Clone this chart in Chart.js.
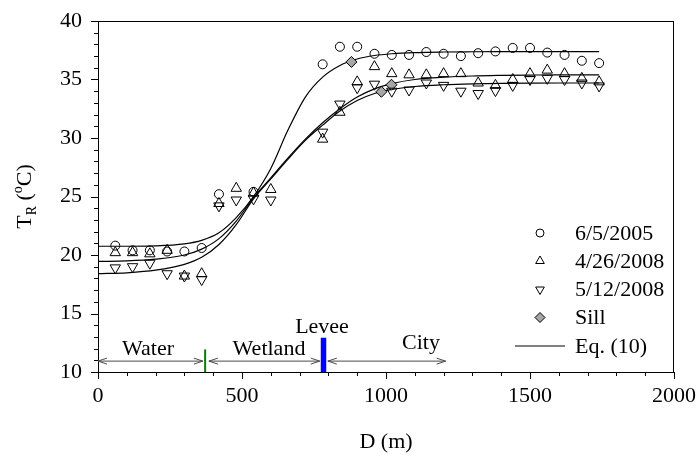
<!DOCTYPE html>
<html>
<head>
<meta charset="utf-8">
<style>
  html, body { margin: 0; padding: 0; background: #fff; }
  #wrap { width: 697px; height: 455px; position: relative; }
</style>
<script src="https://cdn.jsdelivr.net/npm/chart.js"></script>
</head>
<body>
<div id="wrap"><canvas id="myChart"></canvas></div>
<script>
let serif = "'Liberation Serif', 'Times New Roman', serif";

// measured river temperatures along the transect, D in m, T in C
let d_2005 = [60, 120, 180, 240, 300, 360, 420, 540, 780, 840, 900, 960, 1020, 1080, 1140, 1200, 1260, 1320, 1380, 1440, 1500, 1560, 1620, 1680, 1740];
let t_2005 = [20.8, 20.4, 20.4, 20.3, 20.3, 20.6, 25.2, 25.4, 36.3, 37.8, 37.8, 37.2, 37.1, 37.1, 37.35, 37.2, 37.0, 37.25, 37.4, 37.7, 37.7, 37.3, 37.1, 36.6, 36.4];

let d_apr2008 = [60, 120, 180, 240, 300, 360, 420, 480, 540, 600, 780, 840, 900, 960, 1020, 1080, 1140, 1200, 1260, 1320, 1380, 1440, 1500, 1560, 1620, 1680, 1740];
let t_apr2008 = [20.2, 20.2, 20.1, 20.4, 18.2, 18.4, 24.4, 25.7, 25.3, 25.6, 29.9, 32.2, 34.8, 36.1, 35.5, 35.4, 35.4, 35.5, 35.5, 34.7, 34.5, 35.0, 35.5, 35.8, 35.5, 35.1, 34.8];

let d_may2008 = [60, 120, 180, 240, 300, 360, 420, 480, 540, 600, 780, 840, 900, 960, 1020, 1080, 1140, 1200, 1260, 1320, 1380, 1440, 1500, 1560, 1620, 1680, 1740];
let t_may2008 = [18.9, 19.0, 19.3, 18.4, 18.2, 17.9, 24.2, 24.7, 24.8, 24.7, 30.5, 32.9, 34.3, 34.6, 34.0, 34.1, 34.7, 34.5, 34.0, 33.8, 34.05, 34.5, 35.0, 35.1, 35.0, 34.7, 34.45];

let d_sill = [880, 984, 1019];
let t_sill = [36.5, 33.95, 34.55];

// Eq. (10) curves
let d_fit = [0, 100, 200, 300, 360, 420, 480, 540, 600, 660, 720, 780, 840, 900, 960, 1020, 1100, 1200, 1300, 1400, 1500, 1600, 1740];
let fit_2005 = [20.75, 20.75, 20.78, 20.95, 21.25, 21.9, 23.2, 25.0, 27.4, 30.7, 33.5, 35.2, 36.2, 36.75, 37.05, 37.2, 37.3, 37.35, 37.37, 37.38, 37.38, 37.38, 37.38];
let fit_apr2008 = [19.45, 19.5, 19.65, 20.0, 20.5, 21.4, 22.9, 24.9, 26.6, 28.3, 29.9, 31.3, 32.5, 33.5, 34.2, 34.65, 35.0, 35.2, 35.3, 35.35, 35.38, 35.4, 35.4];
let fit_may2008 = [18.4, 18.48, 18.7, 19.2, 19.8, 20.9, 22.6, 24.8, 26.5, 28.2, 29.8, 31.1, 32.3, 33.2, 33.8, 34.15, 34.4, 34.55, 34.63, 34.67, 34.69, 34.7, 34.7];

let legend_labels = ['6/5/2005', '4/26/2008', '5/12/2008', 'Sill', 'Eq. (10)'];

function toPoints (xs, ys) {
  return xs.map(function (x, i) { return { x: x, y: ys[i] }; });
}

function fitLine (xs, ys) {
  return {
    type: 'line',
    data: toPoints(xs, ys),
    borderColor: '#000',
    borderWidth: 1.2,
    pointRadius: 0,
    cubicInterpolationMode: 'monotone',
    fill: false,
    order: 2
  };
}

function marker (xs, ys, style, radius, rotation, fillColor) {
  return {
    type: 'scatter',
    data: toPoints(xs, ys),
    pointStyle: style,
    pointRadius: radius,
    pointRotation: rotation,
    pointBackgroundColor: fillColor,
    pointBorderColor: '#000',
    pointBorderWidth: 1,
    order: 1
  };
}

function symbol (ctx, style, x, y, r) {
  ctx.beginPath();
  if (style === 'circle') {
    ctx.arc(x, y, r, 0, Math.PI * 2);
  } else if (style === 'up') {
    ctx.moveTo(x, y - r);
    ctx.lineTo(x + r * 0.866, y + r * 0.5);
    ctx.lineTo(x - r * 0.866, y + r * 0.5);
    ctx.closePath();
  } else if (style === 'down') {
    ctx.moveTo(x, y + r);
    ctx.lineTo(x + r * 0.866, y - r * 0.5);
    ctx.lineTo(x - r * 0.866, y - r * 0.5);
    ctx.closePath();
  } else {
    ctx.moveTo(x, y - r);
    ctx.lineTo(x + r, y);
    ctx.lineTo(x, y + r);
    ctx.lineTo(x - r, y);
    ctx.closePath();
  }
}

function arrowHead (ctx, x, y, dir) {
  ctx.beginPath();
  ctx.moveTo(x - dir * 9, y - 3);
  ctx.lineTo(x, y);
  ctx.lineTo(x - dir * 9, y + 3);
  ctx.stroke();
}

let decorPlugin = {
  id: 'decor',
  afterDraw: function (chart) {
    let ctx = chart.ctx;
    let a = chart.chartArea;
    let xs = chart.scales.x;
    let ys = chart.scales.y;
    ctx.save();

    // frame
    ctx.strokeStyle = '#000';
    ctx.lineWidth = 1;
    ctx.strokeRect(a.left + 0.5, a.top + 0.5, a.right - a.left - 1, a.bottom - a.top);

    // ticks, outside, major and minor
    ctx.beginPath();
    for (let v = 0; v <= 2000; v += 100) {
      let px = Math.round(xs.getPixelForValue(v)) + 0.5;
      let len = (v % 500 === 0) ? 7 : 4;
      ctx.moveTo(px, a.bottom);
      ctx.lineTo(px, a.bottom + len);
    }
    for (let v = 10; v <= 40; v += 1) {
      let py = Math.round(ys.getPixelForValue(v)) + 0.5;
      let len = (v % 5 === 0) ? 7 : 4;
      ctx.moveTo(a.left, py);
      ctx.lineTo(a.left - len, py);
    }
    ctx.stroke();

    // zone arrows along the bottom
    let ay = ys.getPixelForValue(10.93);
    ctx.strokeStyle = '#4a4a4a';
    ctx.lineWidth = 1;
    let spans = [[0, 364], [385, 770], [798, 1207]];
    spans.forEach(function (s) {
      let x1 = xs.getPixelForValue(s[0]);
      let x2 = xs.getPixelForValue(s[1]);
      ctx.beginPath();
      ctx.moveTo(x1, ay);
      ctx.lineTo(x2, ay);
      ctx.stroke();
      arrowHead(ctx, x1, ay, -1);
      arrowHead(ctx, x2, ay, 1);
    });

    // water / wetland boundary
    ctx.strokeStyle = '#008000';
    ctx.lineWidth = 2;
    ctx.beginPath();
    ctx.moveTo(xs.getPixelForValue(372), ys.getPixelForValue(11.93));
    ctx.lineTo(xs.getPixelForValue(372), a.bottom);
    ctx.stroke();

    // levee
    ctx.strokeStyle = '#0000ff';
    ctx.lineWidth = 5.5;
    ctx.beginPath();
    ctx.moveTo(xs.getPixelForValue(783), ys.getPixelForValue(12.93));
    ctx.lineTo(xs.getPixelForValue(783), a.bottom);
    ctx.stroke();

    ctx.fillStyle = '#000';
    ctx.font = '22px ' + serif;
    ctx.textAlign = 'center';
    ctx.textBaseline = 'alphabetic';
    ctx.fillText('Water', 148, 355);
    ctx.fillText('Wetland', 269, 355);
    ctx.fillText('Levee', 322, 333);
    ctx.fillText('City', 421, 349);

    // axis titles
    ctx.fillText('D (m)', (a.left + a.right) / 2, 448);

    ctx.save();
    ctx.translate(31, (a.top + a.bottom) / 2);
    ctx.rotate(-Math.PI / 2);
    let parts = [['T', 22, 0], ['R', 14, 5], [' (', 22, 0], ['o', 14, -9], ['C)', 22, 0]];
    let total = 0;
    parts.forEach(function (p) {
      ctx.font = p[1] + 'px ' + serif;
      total += ctx.measureText(p[0]).width;
    });
    let tx = -total / 2;
    ctx.textAlign = 'left';
    parts.forEach(function (p) {
      ctx.font = p[1] + 'px ' + serif;
      ctx.fillText(p[0], tx, p[2]);
      tx += ctx.measureText(p[0]).width;
    });
    ctx.restore();

    // legend
    let rows = [233, 261, 289.5, 317.5, 346];
    let styles = ['circle', 'up', 'down', 'diamond'];
    ctx.strokeStyle = '#000';
    ctx.lineWidth = 1;
    for (let i = 0; i < 4; i++) {
      let r = (i === 0) ? 4 : 5;
      symbol(ctx, styles[i], 540, rows[i], r);
      if (i === 3) {
        ctx.fillStyle = '#a6a6a6';
        ctx.fill();
      }
      ctx.stroke();
    }
    ctx.lineWidth = 1.2;
    ctx.beginPath();
    ctx.moveTo(515, rows[4]);
    ctx.lineTo(565, rows[4]);
    ctx.stroke();

    ctx.fillStyle = '#000';
    ctx.font = '22px ' + serif;
    ctx.textAlign = 'left';
    ctx.textBaseline = 'middle';
    for (let i = 0; i < legend_labels.length; i++) {
      ctx.fillText(legend_labels[i], 575, rows[i] + 1);
    }
    ctx.restore();
  }
};

function plainNumber (value) {
  return String(value);
}

let config = {
  data: {
    datasets: [
      fitLine(d_fit, fit_2005),
      fitLine(d_fit, fit_apr2008),
      fitLine(d_fit, fit_may2008),
      marker(d_2005, t_2005, 'circle', 4.5, 0, 'rgba(0,0,0,0)'),
      marker(d_apr2008, t_apr2008, 'triangle', 6, 0, 'rgba(0,0,0,0)'),
      marker(d_may2008, t_may2008, 'triangle', 6, 180, 'rgba(0,0,0,0)'),
      marker(d_sill, t_sill, 'rectRot', 5.5, 0, '#a6a6a6')
    ]
  },
  options: {
    responsive: true,
    maintainAspectRatio: false,
    animation: false,
    events: [],
    layout: { padding: { top: 21, right: 23, left: 0, bottom: 0 } },
    plugins: { legend: { display: false }, tooltip: { enabled: false } },
    scales: {
      x: {
        type: 'linear',
        min: 0,
        max: 2000,
        grid: { display: false, drawTicks: false },
        border: { display: false },
        ticks: { stepSize: 500, color: '#000', padding: 11, font: { family: serif, size: 22 }, callback: plainNumber },
        afterFit: function (scale) {
          scale.height = 83;
          scale.paddingLeft = 0;
          scale.paddingRight = 0;
        }
      },
      y: {
        type: 'linear',
        min: 10,
        max: 40,
        grid: { display: false, drawTicks: false },
        border: { display: false },
        ticks: { stepSize: 5, color: '#000', padding: 16, font: { family: serif, size: 22 }, callback: plainNumber },
        afterFit: function (scale) {
          scale.width = 98;
          scale.paddingTop = 0;
          scale.paddingBottom = 0;
        }
      }
    }
  },
  plugins: [decorPlugin]
};

let myChart = new Chart(document.getElementById('myChart'), config);
</script>
</body>
</html>
